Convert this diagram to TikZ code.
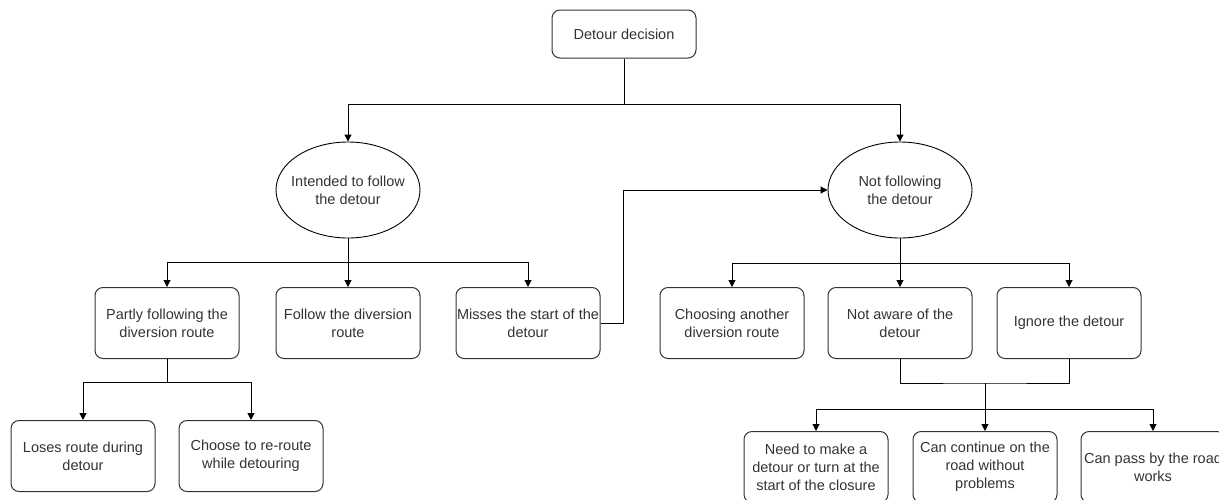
\documentclass[tikz,border=0pt]{standalone}
\usepackage{fontspec}
\setmainfont{Liberation Sans}
\usetikzlibrary{arrows.meta,shapes.geometric}
\definecolor{ink}{HTML}{333333}
\tikzset{
  x=1pt, y=-1pt,
  every node/.style={font=\fontsize{14.5}{18}\selectfont, text=ink, align=center},
  box/.style={draw=ink, line width=1pt, rounded corners=8pt, minimum width=144pt, minimum height=71pt, inner sep=1pt},
  oval/.style={draw=black, line width=0.9pt, ellipse, minimum width=144pt, minimum height=96pt, inner xsep=-10pt, inner ysep=0pt},
  link/.style={draw=black, line width=1pt},
  arr/.style={link, -{Triangle[length=7pt,width=7pt]}}
}
\begin{document}
\begin{tikzpicture}
\useasboundingbox (0,0) rectangle (1219,499);
% root
\node[box, minimum height=48pt] (root) at (624,34) {Detour decision};
% two branches
\node[oval] (intend) at (348,190) {Intended to follow\\the detour};
\node[oval] (notf) at (900,190) {Not following\\the detour};
% middle row, left
\node[box] (partly) at (167,323) {Partly following the\\diversion route};
\node[box] (follow) at (348,323) {Follow the diversion\\route};
\node[box] (miss) at (528,323) {Misses the start of the\\detour};
% middle row, right
\node[box] (choose) at (732,323) {Choosing another\\diversion route};
\node[box] (unaware) at (900,323) {Not aware of the\\detour};
\node[box] (ignore) at (1069,323) {Ignore the detour};
% bottom row, left
\node[box] (lose) at (83,456) {Loses route during\\detour};
\node[box] (reroute) at (251,456) {Choose to re-route\\while detouring};
% bottom row, right
\node[box] (turn) at (816,467) {Need to make a\\detour or turn at the\\start of the closure};
\node[box] (cont) at (985,467) {Can continue on the\\road without\\problems};
\node[box] (pass) at (1153,467) {Can pass by the road\\works};

% junction points
\coordinate (j0) at (624,104);
\coordinate (j1) at (348,262);
\coordinate (j2) at (900,263);
\coordinate (j3) at (167,382);
\coordinate (j4) at (985,383);
\coordinate (j5) at (985,409);

% root to branches
\draw[link] (root.south) -- (j0);
\draw[arr] (j0) -| (intend.north);
\draw[arr] (j0) -| (notf.north);
% intended branch
\draw[link] (intend.south) -- (j1);
\draw[arr] (j1) -| (partly.north);
\draw[arr] (j1) -- (follow.north);
\draw[arr] (j1) -| (miss.north);
% missing the start leads to not following
\draw[arr] (miss.east) -- (623,323) |- (notf.west);
% not-following branch
\draw[link] (notf.south) -- (j2);
\draw[arr] (j2) -| (choose.north);
\draw[arr] (j2) -- (unaware.north);
\draw[arr] (j2) -| (ignore.north);
% partly following
\draw[link] (partly.south) -- (j3);
\draw[arr] (j3) -| (lose.north);
\draw[arr] (j3) -| (reroute.north);
% unaware and ignore merge
\draw[link] (unaware.south) |- (j4) -| (ignore.south);
\draw[link] (j4) -- (j5);
\draw[arr] (j5) -| (turn.north);
\draw[arr] (j5) -- (cont.north);
\draw[arr] (j5) -| (pass.north);
\end{tikzpicture}
\end{document}
